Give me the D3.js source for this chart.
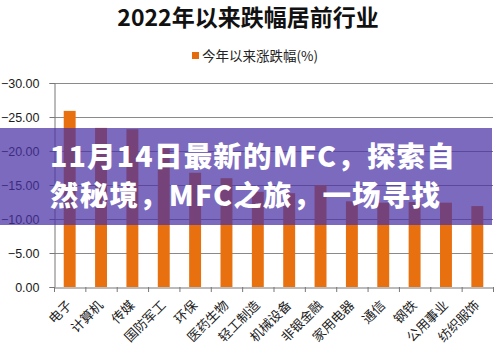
<!DOCTYPE html>
<html><head><meta charset="utf-8">
<script src="https://cdn.jsdelivr.net/npm/d3@7"></script>
<style>
html,body{margin:0;padding:0;background:#fff;}
svg{display:block;}
</style>
</head><body>
<svg id="c" width="496" height="354"></svg>
<script>
const categories = ["电子","计算机","传媒","国防军工","环保","医药生物","轻工制造","机械设备","非银金融","家用电器","通信","钢铁","公用事业","纺织服饰"];
const values = [-25.9,-23.4,-23.2,-20.4,-16.8,-16.0,-14.0,-13.8,-15.0,-12.6,-12.4,-12.5,-12.4,-11.9];
const yTicks = [0,-5,-10,-15,-20,-25,-30];
const titleText = "2022年以来跌幅居前行业";
const legendText = "今年以来涨跌幅(%)";
const bannerLines = ["11月14日最新的MFC，探索自","然秘境，MFC之旅，一场寻找"];

const svg = d3.select("#c");
const L = 54, R = 493, T = 83, B = 287;
const x = d3.scaleBand().domain(categories).range([L, R]).paddingInner(0.62).paddingOuter(0.31);
const y = d3.scaleLinear().domain([0, -30]).range([B, T]);
const cjk = "'Noto Sans CJK SC','Noto Sans',sans-serif";

// title
svg.append("text").attr("x", 248).attr("y", 26).attr("text-anchor","middle")
  .attr("font-family", cjk).attr("font-weight","bold").attr("font-size", 23).attr("fill","#111")
  .text(titleText);

// legend
svg.append("rect").attr("x",192).attr("y",52).attr("width",7).attr("height",7).attr("fill","#E46C0A");
svg.append("text").attr("x",202).attr("y",61).attr("font-family",cjk).attr("font-size",13.5).attr("fill","#222")
  .text(legendText);

// gridlines
svg.append("g").selectAll("line").data(yTicks.filter(d=>d!==0)).join("line")
  .attr("x1", L).attr("x2", R).attr("y1", d=>y(d)+0.5).attr("y2", d=>y(d)+0.5)
  .attr("stroke","#8a8a8a").attr("stroke-width",1);

// bars
svg.append("g").selectAll("rect").data(values).join("rect")
  .attr("x",(d,i)=>x(categories[i])).attr("width",x.bandwidth())
  .attr("y",d=>y(d)).attr("height",d=>y(0)-y(d)).attr("fill","#E8700E");

// y axis
const ya = d3.axisLeft(y).tickValues(yTicks).tickFormat(d3.format(".2f")).tickSize(5).tickPadding(10);
const gy = svg.append("g").attr("transform",`translate(${L+0.5},0)`).call(ya);
gy.select(".domain").attr("stroke","#777");
gy.selectAll(".tick line").attr("stroke","#777");
gy.selectAll(".tick text").attr("font-family","'Liberation Sans',Arial,sans-serif").attr("font-size",12.5).attr("fill","#1a1a1a");

// x axis
const xa = d3.axisBottom(x).tickSize(0).tickFormat("");
const gx = svg.append("g").attr("transform",`translate(0,${B+0.5})`).call(xa);
gx.select(".domain").attr("stroke","#777");
const step = x.step();
const bounds = d3.range(categories.length+1).map(i=>L + i*step);
svg.append("g").selectAll("line").data(bounds).join("line")
  .attr("x1",d=>d+0.5).attr("x2",d=>d+0.5).attr("y1",B).attr("y2",B+5).attr("stroke","#777");

// x labels
svg.append("g").selectAll("text").data(categories).join("text")
  .attr("transform", d=>`translate(${x(d)+x.bandwidth()/2+3},${B+19}) rotate(-45)`)
  .attr("text-anchor","end").attr("font-family",cjk).attr("font-size",13).attr("fill","#222")
  .text(d=>d);

// banner overlay
svg.append("rect").attr("x",0).attr("y",128).attr("width",492).attr("height",97)
  .attr("fill","rgb(72,49,165)").attr("fill-opacity",0.72);
svg.append("g").selectAll("text").data(bannerLines).join("text")
  .attr("x",50).attr("y",(d,i)=>167 + i*39)
  .attr("font-family",cjk).attr("font-weight",900).attr("font-size",28.5).attr("letter-spacing",1.2)
  .attr("fill","#fff").text(d=>d);
</script>
</body></html>
